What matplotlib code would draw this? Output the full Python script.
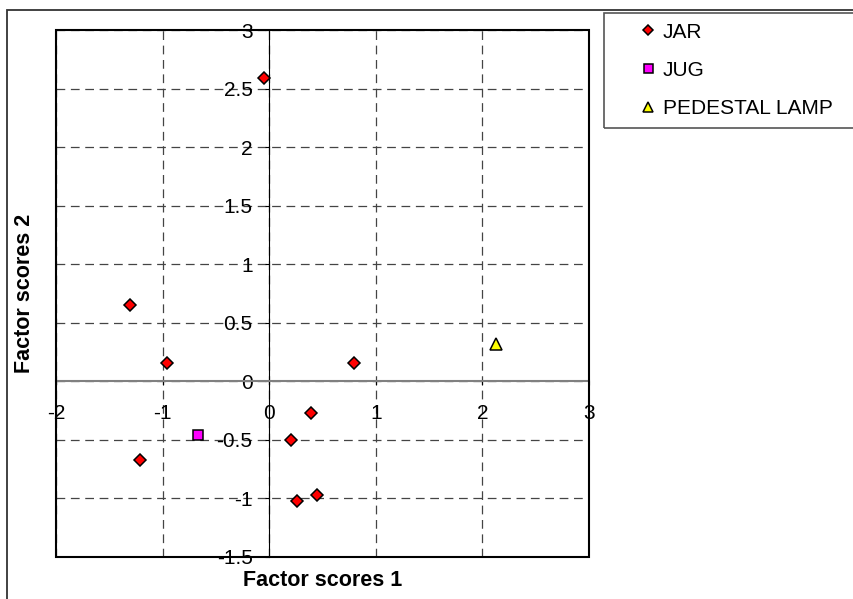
import matplotlib
matplotlib.use("Agg")
import matplotlib.pyplot as plt
from matplotlib.patches import Rectangle
from matplotlib.ticker import FuncFormatter
import numpy as np

plt.rcParams['font.family'] = ['Liberation Sans', 'DejaVu Sans']

# ---- data ----
jar_x = [-0.05, -1.31, -0.96, 0.80, 0.39, 0.20, -1.21, 0.265, 0.45]
jar_y = [2.59, 0.65, 0.157, 0.16, -0.27, -0.50, -0.67, -1.026, -0.97]
jug_x = [-0.67]
jug_y = [-0.455]
lamp_x = [2.13]
lamp_y = [0.32]
series_labels = ["JAR", "JUG", "PEDESTAL LAMP"]
x_ticks = [-2, -1, 0, 1, 2, 3]
y_ticks = [-1.5, -1, -0.5, 0, 0.5, 1, 1.5, 2, 2.5, 3]
x_title = "Factor scores 1"
y_title = "Factor scores 2"

W, H = 854, 599
fig = plt.figure(figsize=(W / 100, H / 100), dpi=100)
L, R, T, B = 56, 589, 30, 557
ax = fig.add_axes([L / W, 1 - B / H, (R - L) / W, (B - T) / H])
ax.set_xlim(-2, 3)
ax.set_ylim(-1.5, 3)

# grid
ax.set_xticks(x_ticks)
ax.set_yticks(y_ticks)
ax.grid(True, color='#444444', linewidth=0.9, linestyle=(0, (7, 4.5)))
ax.set_axisbelow(True)

# spines at zero
ax.spines['left'].set_position(('data', 0))
ax.spines['bottom'].set_position(('data', 0))
ax.spines['left'].set_color('black')
ax.spines['left'].set_linewidth(0.8)
ax.spines['bottom'].set_color('#808080')
ax.spines['bottom'].set_linewidth(1.5)
ax.spines['top'].set_visible(False)
ax.spines['right'].set_visible(False)

fmt = FuncFormatter(lambda v, p: ('%g' % v))
ax.xaxis.set_major_formatter(fmt)
ax.yaxis.set_major_formatter(fmt)
ax.tick_params(axis='x', direction='out', length=3, width=0.8, pad=13, labelsize=15, colors='black')
ax.tick_params(axis='y', direction='out', length=3, width=0.8, pad=9, labelsize=15, colors='black')

# box
ax.add_patch(Rectangle((0, 0), 1, 1, transform=ax.transAxes, fill=False,
                       edgecolor='black', linewidth=1.5, zorder=5, clip_on=False))

# points
h1, = ax.plot(jar_x, jar_y, linestyle='none', marker='D', markersize=6.2,
              markerfacecolor='#FF0000', markeredgecolor='black', markeredgewidth=1.1, zorder=6)
h2, = ax.plot(jug_x, jug_y, linestyle='none', marker='s', markersize=7.2,
              markerfacecolor='#FF00FF', markeredgecolor='black', markeredgewidth=1.1, zorder=6)
h3, = ax.plot(lamp_x, lamp_y, linestyle='none', marker='^', markersize=8.5,
              markerfacecolor='#FFFF00', markeredgecolor='black', markeredgewidth=1.1, zorder=6)

# axis titles
ax.set_xlabel(x_title, fontsize=15.5, fontweight='bold', va='center')
ax.xaxis.set_label_coords(0.5, (B - 580) / (B - T))
ax.set_ylabel(y_title, fontsize=15.5, fontweight='bold', va='center')
ax.yaxis.set_label_coords((24.5 - L) / (R - L), 0.5)

# outer frame
fig.patches.append(Rectangle((7 / W, -0.05), 1.1, 1 - 10 / H + 0.05, transform=fig.transFigure,
                             fill=False, edgecolor='#333333', linewidth=1.3, zorder=0))
# legend frame
fig.patches.append(Rectangle((604 / W, 1 - 127.5 / H), 0.5, (127.5 - 13.5) / H,
                             transform=fig.transFigure, fill=False, edgecolor='#555555',
                             linewidth=1.2, zorder=0))

leg = fig.legend([h1, h2, h3], series_labels, loc='upper left',
                 bbox_to_anchor=(639 / W, 1 - 22.5 / H), bbox_transform=fig.transFigure,
                 frameon=False, fontsize=15, borderpad=0, borderaxespad=0,
                 handlelength=0.85, handletextpad=0.3, labelspacing=0.92, markerscale=0.9)

fig.savefig('out.png', dpi=100)
